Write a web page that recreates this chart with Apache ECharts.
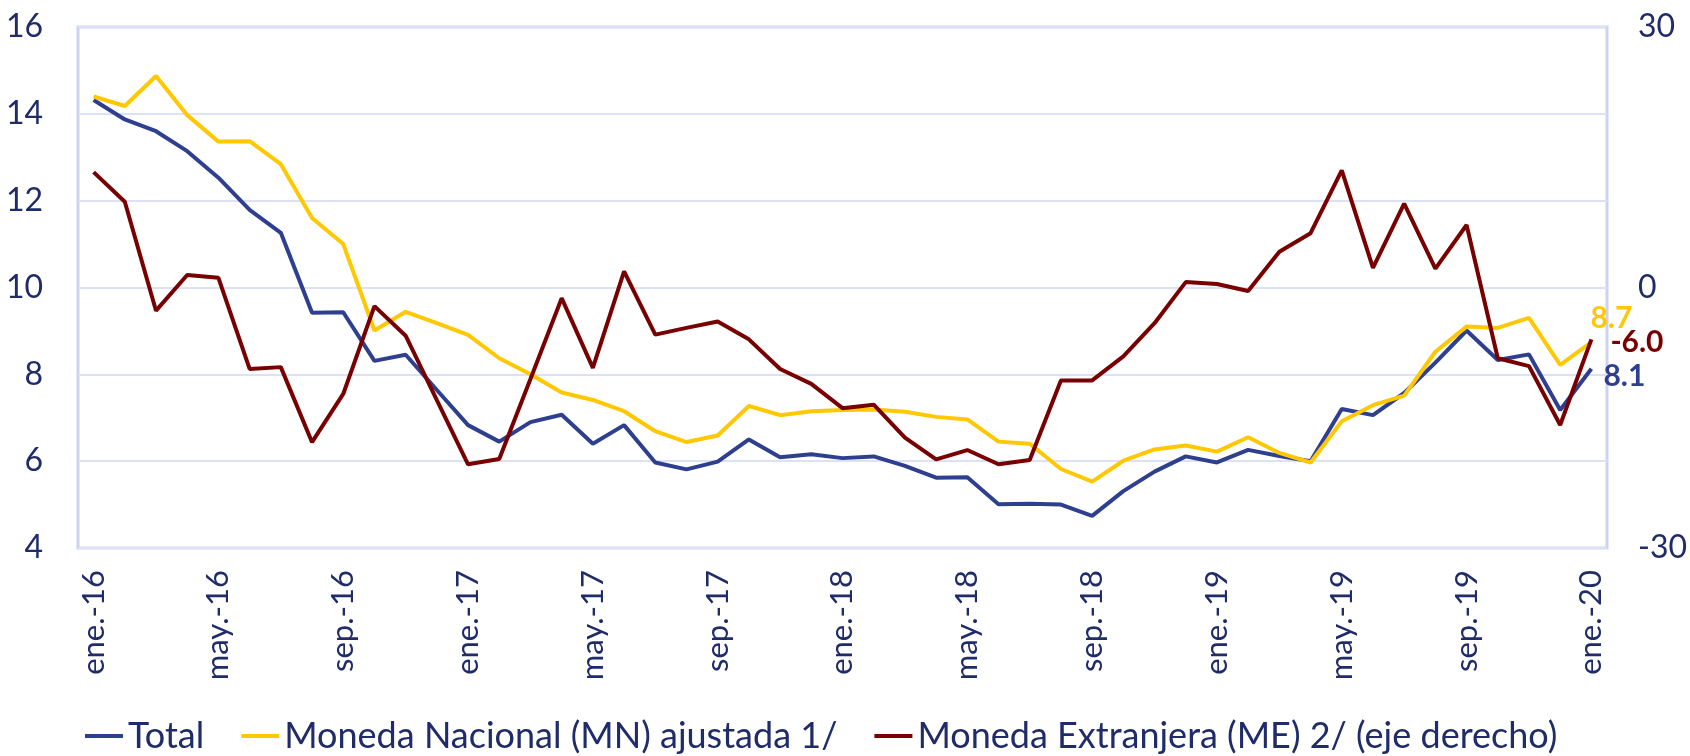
<!DOCTYPE html>
<html>
<head>
<meta charset="utf-8">
<script src="https://cdn.jsdelivr.net/npm/echarts@6/dist/echarts.min.js"></script>
<style>
html,body{margin:0;padding:0;background:#fff;}
#chart{width:1690px;height:756px;}
</style>
</head>
<body>
<div id="chart"></div>
<script>
const categories = [
 'ene.-16','feb.-16','mar.-16','abr.-16','may.-16','jun.-16','jul.-16','ago.-16','sep.-16','oct.-16','nov.-16','dic.-16',
 'ene.-17','feb.-17','mar.-17','abr.-17','may.-17','jun.-17','jul.-17','ago.-17','sep.-17','oct.-17','nov.-17','dic.-17',
 'ene.-18','feb.-18','mar.-18','abr.-18','may.-18','jun.-18','jul.-18','ago.-18','sep.-18','oct.-18','nov.-18','dic.-18',
 'ene.-19','feb.-19','mar.-19','abr.-19','may.-19','jun.-19','jul.-19','ago.-19','sep.-19','oct.-19','nov.-19','dic.-19',
 'ene.-20'
];
const total = [14.32,13.87,13.60,13.14,12.53,11.79,11.26,9.42,9.43,8.31,8.45,7.64,
 6.83,6.45,6.90,7.07,6.40,6.83,5.97,5.81,5.99,6.50,6.09,6.16,
 6.07,6.11,5.89,5.62,5.63,5.01,5.02,5.00,4.74,5.31,5.76,6.11,
 5.97,6.26,6.12,6.00,7.20,7.06,7.57,8.27,9.01,8.33,8.46,7.18,
 8.13];
const mn = [14.40,14.18,14.87,13.97,13.36,13.37,12.84,11.60,11.00,9.01,9.44,9.18,
 8.91,8.37,8.00,7.58,7.41,7.15,6.69,6.44,6.59,7.27,7.06,7.15,
 7.18,7.19,7.14,7.02,6.96,6.45,6.40,5.82,5.53,6.01,6.27,6.36,
 6.22,6.55,6.19,5.97,6.92,7.29,7.51,8.52,9.10,9.07,9.30,8.22,
 8.74];
const me = [13.29,9.87,-2.67,1.44,1.11,-9.38,-9.17,-17.81,-12.26,-2.14,-5.55,-12.96,
 -20.36,-19.74,-10.54,-1.23,-9.26,1.85,-5.43,-4.65,-3.91,-5.97,-9.38,-11.10,
 -13.90,-13.49,-17.28,-19.79,-18.72,-20.36,-19.87,-10.70,-10.70,-7.94,-4.11,0.62,
 0.41,-0.41,4.11,6.25,13.49,2.26,9.67,2.18,7.20,-8.15,-9.05,-15.84,
 -5.97];
const seriesNames = ['Total','Moneda Nacional (MN) ajustada 1/','Moneda Extranjera (ME) 2/ (eje derecho)'];
const leftTicks = {min:4, max:16, interval:2};
const rightTicks = {min:-30, max:30, interval:30};

const NAVY = '#1F2C69';
const C_TOTAL = '#2E3F8F';
const C_MN = '#FFC800';
const C_ME = '#780000';
const FONT = 'Lato';

const chart = echarts.init(document.getElementById('chart'));
function endLbl(color, offset){
  return {show:true, formatter:p=>Number(p.value).toFixed(1), color:color, fontFamily:FONT,
          fontWeight:'bold', fontSize:30, offset:offset, distance:0};
}
chart.setOption({
  animation:false,
  textStyle:{fontFamily:FONT},
  grid:{left:78,right:81,top:27,bottom:208,show:true,borderColor:'#CDD3EE',borderWidth:3,containLabel:false},
  legend:{
    data:seriesNames, left:80, top:713, icon:'rect', itemWidth:38, itemHeight:4, itemGap:37,
    textStyle:{color:NAVY,fontSize:36,fontFamily:FONT}
  },
  xAxis:{
    type:'category', data:categories, boundaryGap:true,
    axisLine:{show:false}, axisTick:{show:false},
    axisLabel:{rotate:90, interval:3, margin:22, color:NAVY, fontSize:31, fontFamily:FONT}
  },
  yAxis:[
    {type:'value', min:leftTicks.min, max:leftTicks.max, interval:leftTicks.interval, position:'left',
     axisLine:{show:false}, axisTick:{show:false},
     axisLabel:{margin:35, color:NAVY, fontSize:32, fontFamily:FONT},
     splitLine:{lineStyle:{color:'#DCE1F5', width:2}}},
    {type:'value', min:rightTicks.min, max:rightTicks.max, interval:rightTicks.interval, position:'right',
     axisLine:{show:false}, axisTick:{show:false},
     axisLabel:{margin:31, color:NAVY, fontSize:32, fontFamily:FONT},
     splitLine:{show:false}}
  ],
  series:[
    {name:seriesNames[0], type:'line', data:total, yAxisIndex:0, symbol:'none', color:C_TOTAL,
     lineStyle:{width:4,color:C_TOTAL}, endLabel:endLbl(C_TOTAL,[12,8])},
    {name:seriesNames[1], type:'line', data:mn, yAxisIndex:0, symbol:'none', color:C_MN,
     lineStyle:{width:4,color:C_MN}, endLabel:endLbl(C_MN,[-1,-24])},
    {name:seriesNames[2], type:'line', data:me, yAxisIndex:1, symbol:'none', color:C_ME,
     lineStyle:{width:4,color:C_ME}, endLabel:endLbl(C_ME,[19,3])}
  ]
});
</script>
</body>
</html>
